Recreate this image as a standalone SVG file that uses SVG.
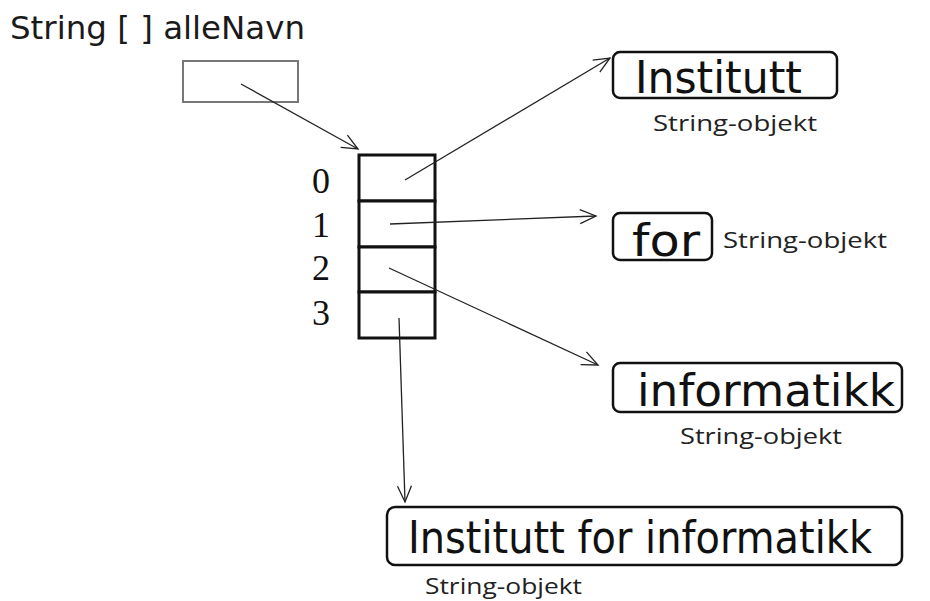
<svg xmlns="http://www.w3.org/2000/svg" width="930" height="601" viewBox="0 0 930 601">
  <style>
    .title { font-family: "DejaVu Sans", "Liberation Sans", sans-serif; font-size: 32px; fill: #1a1a1a; }
    .val { font-family: "DejaVu Sans", "Liberation Sans", sans-serif; font-size: 45px; fill: #111; }
    .lbl { font-family: "Open Sans", "Lato", sans-serif; font-size: 22px; fill: #222; }
    .idx { font-family: "Liberation Serif", serif; font-size: 36px; fill: #111; }
    .obj { fill: #fff; stroke: #111; stroke-width: 2.5; }
    .cell { fill: #fff; stroke: #111; stroke-width: 3; }
    .ref { fill: #fff; stroke: #777; stroke-width: 2; }
    .conn { fill: none; stroke: #222; stroke-width: 1.3; marker-end: url(#open); }
  </style>
  <defs>
    <marker id="open" viewBox="0 0 20 20" refX="18" refY="10" markerWidth="20" markerHeight="20" markerUnits="userSpaceOnUse" orient="auto">
      <polyline points="2,3 18,10 2,17" fill="none" stroke="#222" stroke-width="1.3"/>
    </marker>
  </defs>

  <!-- reference variable -->
  <g id="alleNavn">
    <text class="title" x="10" y="39" textLength="295" lengthAdjust="spacingAndGlyphs">String [ ] alleNavn</text>
    <rect class="ref" x="183" y="61" width="115" height="41"/>
  </g>

  <!-- array with four slots -->
  <g id="array">
    <rect class="cell" x="359" y="155" width="76" height="46"/>
    <rect class="cell" x="359" y="201" width="76" height="46"/>
    <rect class="cell" x="359" y="247" width="76" height="45"/>
    <rect class="cell" x="359" y="292" width="76" height="46"/>
    <text class="idx" x="312" y="193">0</text>
    <text class="idx" x="312" y="237">1</text>
    <text class="idx" x="312" y="280">2</text>
    <text class="idx" x="312" y="325">3</text>
  </g>

  <!-- string objects -->
  <g id="str-institutt">
    <rect class="obj" x="613" y="52" width="224" height="46" rx="7"/>
    <text class="val" x="635" y="93" textLength="167" lengthAdjust="spacingAndGlyphs">Institutt</text>
    <text class="lbl" x="653" y="131" textLength="164" lengthAdjust="spacingAndGlyphs">String-objekt</text>
  </g>

  <g id="str-for">
    <rect class="obj" x="613" y="213" width="99" height="47" rx="7"/>
    <text class="val" x="632" y="256" textLength="68" lengthAdjust="spacingAndGlyphs">for</text>
    <text class="lbl" x="723" y="248" textLength="164" lengthAdjust="spacingAndGlyphs">String-objekt</text>
  </g>

  <g id="str-informatikk">
    <rect class="obj" x="613" y="363" width="289" height="49" rx="7"/>
    <text class="val" x="637" y="406" textLength="258" lengthAdjust="spacingAndGlyphs">informatikk</text>
    <text class="lbl" x="680" y="444" textLength="162" lengthAdjust="spacingAndGlyphs">String-objekt</text>
  </g>

  <g id="str-full">
    <rect class="obj" x="387" y="507" width="515" height="58" rx="8"/>
    <text class="val" x="408" y="553" textLength="464" lengthAdjust="spacingAndGlyphs">Institutt for informatikk</text>
    <text class="lbl" x="425" y="594" textLength="157" lengthAdjust="spacingAndGlyphs">String-objekt</text>
  </g>

  <!-- references -->
  <g id="connectors">
    <line class="conn" x1="241" y1="84" x2="358" y2="149"/>
    <line class="conn" x1="405" y1="180" x2="610" y2="58"/>
    <line class="conn" x1="390" y1="224" x2="596" y2="216"/>
    <line class="conn" x1="389" y1="268" x2="598" y2="365"/>
    <line class="conn" x1="399" y1="318" x2="405" y2="502"/>
  </g>
</svg>
